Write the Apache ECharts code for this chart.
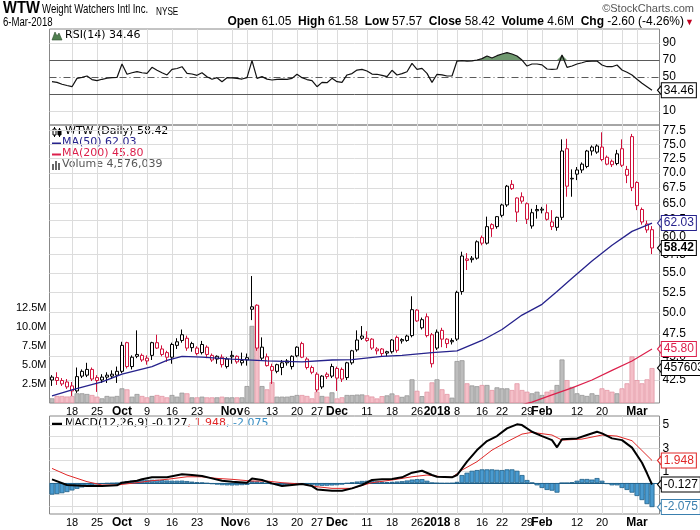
<!DOCTYPE html>
<html><head><meta charset="utf-8">
<script src="https://cdn.jsdelivr.net/npm/echarts@6/dist/echarts.min.js"></script>
<style>html,body{margin:0;padding:0;background:#fff}#c{width:700px;height:530px}</style>
</head><body><div id="c"></div>
<script>
// ---------- DATA ----------
const dates = ('2017-09-12 2017-09-13 2017-09-14 2017-09-15 2017-09-18 2017-09-19 2017-09-20 2017-09-21 2017-09-22 ' +
'2017-09-25 2017-09-26 2017-09-27 2017-09-28 2017-09-29 2017-10-02 2017-10-03 2017-10-04 2017-10-05 2017-10-06 ' +
'2017-10-09 2017-10-10 2017-10-11 2017-10-12 2017-10-13 2017-10-16 2017-10-17 2017-10-18 2017-10-19 2017-10-20 ' +
'2017-10-23 2017-10-24 2017-10-25 2017-10-26 2017-10-27 2017-10-30 2017-10-31 2017-11-01 2017-11-02 2017-11-03 ' +
'2017-11-06 2017-11-07 2017-11-08 2017-11-09 2017-11-10 2017-11-13 2017-11-14 2017-11-15 2017-11-16 2017-11-17 ' +
'2017-11-20 2017-11-21 2017-11-22 2017-11-24 2017-11-27 2017-11-28 2017-11-29 2017-11-30 2017-12-01 ' +
'2017-12-04 2017-12-05 2017-12-06 2017-12-07 2017-12-08 2017-12-11 2017-12-12 2017-12-13 2017-12-14 2017-12-15 ' +
'2017-12-18 2017-12-19 2017-12-20 2017-12-21 2017-12-22 2017-12-26 2017-12-27 2017-12-28 2017-12-29 ' +
'2018-01-02 2018-01-03 2018-01-04 2018-01-05 2018-01-08 2018-01-09 2018-01-10 2018-01-11 2018-01-12 ' +
'2018-01-16 2018-01-17 2018-01-18 2018-01-19 2018-01-22 2018-01-23 2018-01-24 2018-01-25 2018-01-26 ' +
'2018-01-29 2018-01-30 2018-01-31 2018-02-01 2018-02-02 2018-02-05 2018-02-06 2018-02-07 2018-02-08 2018-02-09 ' +
'2018-02-12 2018-02-13 2018-02-14 2018-02-15 2018-02-16 2018-02-20 2018-02-21 2018-02-22 2018-02-23 ' +
'2018-02-26 2018-02-27 2018-02-28 2018-03-01 2018-03-02 2018-03-05 2018-03-06').split(' ');

const open = [42.5,42.75,42.45,42.3,41.9,41.4,42.9,43.0,43.6,42.75, 42.5,42.8,42.9,43.0,43.4,46.5,43.9,45.0,45.1,44.8,
 45.1,46.5,45.8,45.4,44.9,46.2,46.75,47.0,46.4,45.9, 45.4,46.0,45.1,44.7,44.9,43.9,45.1,45.0,44.3,44.85,
 50.4,50.9,44.8,44.95,43.9,43.4,43.8,44.3,43.9,45.05, 46.4,44.7,43.8,43.1,41.8,43.1,42.9,43.7,43.6,42.75,
 44.3,45.7,47.25,47.0,46.9,45.6,45.8,45.5,45.5,47.1, 46.85,46.75,47.3,50.3,48.2,49.5,47.4,45.9,47.9,46.9,
 46.75,46.9,52.6,56.7,56.8,57.0,59.9,59.1,61.8,61.5, 63.2,64.8,68.1,63.7,66.1,65.0,61.6,63.9,64.0,63.6,
 61.5,61.4,62.9,74.2,69.0,69.8,70.5,71.1,73.8,73.6, 74.5,72.7,72.0,71.6,74.2,70.6,76.4,68.4,64.1,61.9, 61.05];
const high = [43.0,43.3,42.7,42.6,42.3,43.8,43.6,44.3,43.8,43.0, 43.1,43.3,43.5,43.9,46.6,46.6,45.1,47.9,45.3,45.1,
 46.6,47.4,46.2,45.6,46.5,47.0,48.0,47.3,46.6,46.1, 46.7,46.2,45.3,45.1,45.2,44.9,45.6,45.1,45.4,45.3,
 54.6,51.0,47.1,45.3,44.2,44.2,44.6,44.7,45.1,46.1, 46.6,44.9,44.0,43.3,43.0,43.3,44.2,43.9,43.8,44.4,
 45.7,47.9,48.4,47.8,47.0,46.0,45.9,45.6,46.9,47.3, 47.0,47.4,52.0,50.4,49.4,49.9,47.6,48.0,48.2,47.0,
 47.0,52.7,57.9,57.7,57.3,59.5,60.2,63.0,62.0,63.1, 65.0,68.0,68.8,66.0,66.8,65.2,64.2,64.8,64.5,64.9,
 64.0,63.0,75.9,76.0,70.6,71.0,71.8,74.0,74.8,75.0, 77.2,73.0,72.3,74.0,75.9,71.2,76.9,68.6,64.4,62.4, 61.58];
const low = [41.9,42.0,41.9,41.6,40.9,41.2,42.7,42.8,42.4,41.3, 42.2,42.2,42.6,42.2,43.2,43.7,43.6,44.8,44.4,44.1,
 44.6,45.8,45.0,44.4,44.2,45.8,46.5,45.6,45.5,45.1, 45.2,44.8,44.4,44.2,43.8,43.7,44.2,44.2,44.0,44.0,
 49.1,45.6,44.5,43.9,42.1,43.2,43.0,44.0,43.6,44.9, 44.8,43.6,43.1,41.3,41.6,42.6,42.7,41.4,42.3,42.5,
 44.1,45.5,46.8,46.6,45.7,45.2,45.0,45.0,45.3,45.4, 46.4,46.6,47.1,48.9,48.0,47.1,43.8,45.7,46.0,45.9,
 46.3,46.7,52.2,55.4,56.4,56.8,58.8,58.9,60.0,61.2, 62.9,64.5,67.2,62.2,65.0,61.9,61.2,62.7,63.5,62.4,
 61.0,60.9,62.5,66.1,66.1,68.8,70.0,70.8,73.0,73.3, 72.0,71.3,71.0,71.3,71.0,68.3,67.0,64.0,61.8,60.6, 57.57];
const close = [42.8,42.45,42.1,41.8,41.4,42.85,43.4,43.6,42.6,42.45, 42.8,43.0,43.1,43.4,46.2,43.9,44.9,45.2,44.6,44.5,
 46.5,45.9,45.2,44.9,46.3,46.6,47.4,45.9,45.95,45.3, 46.3,45.2,44.6,45.0,44.1,44.7,44.95,44.4,44.55,44.6,
 50.7,45.9,46.0,44.0,43.5,44.1,44.3,44.5,45.0,46.0, 44.9,43.8,43.3,41.5,42.9,42.85,43.9,42.7,42.6,44.3,
 45.6,46.8,47.0,46.75,45.9,45.8,45.3,45.35,46.8,45.65, 46.7,47.25,50.35,49.0,49.15,47.3,44.2,47.7,46.9,46.4,
 46.6,52.5,57.3,56.9,57.0,59.3,59.1,61.5,61.2,63.0, 64.8,67.8,67.4,65.9,65.4,62.6,63.6,64.1,64.15,62.6,
 62.2,62.9,73.8,67.8,69.1,70.5,71.5,73.8,74.5,74.7, 72.3,71.5,71.4,73.3,71.3,69.6,67.6,64.7,62.2,61.02, 58.42];
// volume in millions of shares
const volume = [0.61,0.92,0.92,0.85,0.92,1.27,1.27,1.18,1.05,0.83, 0.61,0.92,0.83,0.92,1.92,1.79,0.83,1.18,0.92,0.74,
 0.92,1.05,0.92,0.74,1.05,0.83,1.35,1.27,0.74,0.74, 0.83,0.74,0.74,0.74,0.83,0.74,0.74,0.74,0.74,2.22,
 10.1,12.8,2.22,1.79,2.75,0.83,0.83,0.83,0.92,1.05, 1.05,0.92,0.61,1.48,0.92,0.83,1.4,0.6,0.75,1.05,
 1.05,1.1,1.12,1.0,0.85,0.6,0.9,1.0,1.25,1.0, 0.8,1.0,3.1,1.6,0.9,1.48,2.7,3.1,1.8,1.18,
 0.7,5.5,5.6,2.58,2.3,2.2,2.36,2.36,1.7,2.05, 1.92,1.92,1.7,2.58,1.7,1.48,1.27,1.48,1.05,1.48,
 1.7,2.36,5.7,3.0,2.1,1.27,1.05,0.92,1.27,1.05, 1.92,1.7,1.48,1.27,1.92,2.58,6.1,3.0,2.58,3.1, 4.576039];
const lastVolumeShares = 4576039;
// moving averages read at selected trading-day indices [index, value]
const ma50Pts = [[0,40.9],[4,41.5],[10,42.3],[14,43.1],[20,43.9],[23,44.55],[26,45.0],[30,44.9],[36,44.7],[43,44.5],
 [50,44.4],[56,44.6],[60,44.65],[66,45.0],[70,45.1],[76,45.4],[81,45.6],[86,46.75],[90,48.0],[94,49.7],[98,51.0],
 [101,52.6],[104,54.3],[108,56.6],[112,58.8],[116,60.8],[120,62.03]];
const ma200Pts = [[88,39.5],[92,39.8],[96,40.3],[100,41.0],[104,41.7],[108,42.5],[112,43.5],[116,44.5],[120,45.8]];
const rsi = [44.5,43.7,41.5,40,38.6,48.4,49.6,51.2,47,45.7, 47.3,48.5,49.2,49.5,65.3,53.2,55,56.3,55,54.3,
 61.4,58,55,52.4,59,60,62.1,54.3,53.5,52, 55.1,50.4,47.3,49.2,44.5,49.2,49,48.4,47.6,49.2,
 69.2,48.4,50.4,47.5,46.5,47.3,47.5,47.3,48.4,53.2, 49.2,47,45.7,38.6,43.7,43.3,48.4,44.5,43.7,52.4,
 54,58.2,59,57,53.5,53.2,52,50.4,57.9,52.4, 54,56.2,66.1,59,60.2,54.3,43.7,53.2,52.4,51.2,
 51.2,68.8,69.2,68.8,69,70,71.6,74.7,72.4,75.1, 77.1,78.6,77.1,74.7,70,62.9,65.3,65.3,64.3,59.4,
 59,59.4,75.9,61.4,62.9,65.3,66.8,68.5,68.8,68.8, 64.1,62.1,62.1,64.1,58.2,55.5,52.4,47.3,42.6,38.6, 34.46];
const macdPts = [[0,0.32],[3,-0.17],[7,-0.26],[10,-0.26],[13,-0.2],[14,0.03],[17,0.2],[18,0.32],[20,0.49],[23,0.49],
 [26,0.75],[28,0.7],[30,0.6],[32,0.4],[34,0.2],[36,0.12],[39,0.03],[40,0.4],[42,0.26],[44,-0.03],[46,-0.26],[48,-0.17],
 [50,-0.09],[52,-0.26],[53,-0.55],[56,-0.66],[58,-0.66],[60,-0.46],[62,-0.17],[64,0.26],[66,0.32],[68,0.35],[70,0.49],
 [72,0.89],[74,1.06],[76,0.69],[77,0.54],[80,0.49],[81,0.69],[83,1.84],[85,2.84],[87,3.62],[89,4.05],[91,4.71],[93,5.06],
 [94,5.0],[96,4.42],[98,4.05],[100,3.7],[101,3.08],[102,3.77],[105,3.85],[107,4.14],[109,4.42],[110,4.28],[112,3.85],
 [114,3.7],[116,3.05],[118,1.75],[119,0.84],[120,-0.127]];
const signalPts = [[0,1.26],[3,0.69],[7,0.12],[10,-0.17],[13,-0.17],[17,0.03],[20,0.2],[23,0.32],[27,0.54],[30,0.54],
 [33,0.4],[36,0.32],[40,0.17],[43,0.17],[46,0.03],[50,-0.09],[53,-0.32],[56,-0.46],[60,-0.46],[64,0.03],[68,0.26],
 [72,0.54],[75,0.69],[78,0.54],[80,0.49],[82,1.12],[85,1.84],[88,2.84],[91,3.56],[94,4.22],[96,4.37],[100,4.14],
 [102,3.7],[106,3.79],[110,4.14],[113,4.05],[116,3.65],[118,2.8],[120,1.948]];
const hist = [-1.0,-0.95,-0.88,-0.78,-0.64,-0.5,-0.38,-0.28,-0.2,-0.13,-0.08,-0.05,-0.03,-0.01,
 0.1,0.17,0.21,0.24,0.26,0.27,0.28,0.27,0.25,0.22,0.2,0.2,0.21,0.17,0.12,0.07,
 0.03,-0.04,-0.1,-0.14,-0.18,-0.2,-0.21,-0.2,-0.18,-0.16,
 0.18,0.14,0.06,-0.04,-0.12,
 -0.18,-0.2,-0.18,-0.15,-0.12,-0.1,-0.12,-0.15,
 -0.22,-0.24,-0.23,-0.21,-0.19,-0.14,-0.04,
 0.05,0.13,0.18,0.2,0.19,0.15,0.1,0.08,0.1,0.13,
 0.16,0.22,0.3,0.34,0.34,0.2,0.02,-0.02,-0.04,-0.04,-0.03,0.1,
 0.69,0.89,1.06,1.12,1.18,1.18,1.18,1.14,1.12,1.18,1.18,1.06,
 0.69,0.26,0.03,-0.2,-0.43,-0.6,-0.66,-0.83,
 0.0,0.0,0.06,0.2,0.35,0.35,0.3,0.43,0.2,
 -0.09,-0.2,-0.2,-0.43,-0.6,-0.83,-1.12,-1.47,-1.82,-2.075];
const tickDates = ['2017-09-18','2017-09-25','2017-10-02','2017-10-09','2017-10-16','2017-10-23','2017-11-01','2017-11-06',
 '2017-11-13','2017-11-20','2017-11-27','2017-12-01','2017-12-11','2017-12-18','2017-12-26','2018-01-02','2018-01-08',
 '2018-01-16','2018-01-22','2018-01-29','2018-02-01','2018-02-12','2018-02-20','2018-02-26','2018-03-01'];
const tickTexts = ['18','25','Oct','9','16','23','Nov','6','13','20','27','Dec','11','18','26','2018','8','16','22','29','Feb','12','20','26','Mar'];
const priceTicks = [42.5,45,47.5,50,52.5,55,57.5,60,62.5,65,67.5,70,72.5,75,77.5];
const volumeTicks = [2.5,5,7.5,10,12.5];
const rsiTicks = [10,30,50,70,90];
const macdTicks = [-2,-1,0,1,2,3,4,5];
const lastRSI = 34.46, lastMA50 = 62.03, lastMA200 = 45.80, lastClose = 58.42;
const lastMACD = -0.127, lastSignal = 1.948, lastHist = -2.075;
const overbought = 70;

// ---------- STYLE / BUILD ----------
const FONT = '"Liberation Sans", Arial, sans-serif';
const LFONT = '"DejaVu Sans", Verdana, sans-serif';
const RED = '#d0103a', NAVY = '#26228c', CRIM = '#dc1f4b', SIGRED = '#e02828', HBLUE = '#4a9bd0', HEDGE = '#1f5f88';
const GRIDC = '#dcdcdc';
const xData = dates.concat(['']);
const last = dates[dates.length - 1];
const tickMap = {}; tickDates.forEach((d, i) => tickMap[d] = tickTexts[i]);
const vLines = tickDates.map(d => ({ xAxis: d }));
const pts = arr => arr.map(p => [dates[p[0]], p[1]]);

const candleData = dates.map((d, i) => {
  const prev = i > 0 ? close[i - 1] : open[i];
  const col = close[i] < prev ? RED : '#000';
  return { value: [open[i], close[i], low[i], high[i]],
    itemStyle: { color: '#fff', color0: col, borderColor: col, borderColor0: col } };
});
const volData = dates.map((d, i) => {
  const down = i > 0 && close[i] < close[i - 1];
  return { value: volume[i], itemStyle: down ? { color: '#f4bfc8', borderColor: '#e397a5' } : { color: '#bdbdbd', borderColor: '#979797' } };
});
// RSI portion above the overbought line (for the shaded area)
const rsiAbove = rsi.map(v => Math.max(v, overbought));

function tag(value, text, color, bold) {
  return { symbol: 'path://M0,5L6,0L6,10Z', symbolSize: [5, 12], symbolOffset: [8, 0], silent: true,
    itemStyle: { color: '#fff', borderColor: color, borderWidth: 1 },
    data: [{ coord: [last, value],
    label: { show: true, position: 'right', distance: -1, formatter: text, color: color,
      borderColor: color, borderWidth: 1, backgroundColor: '#fff', padding: [2, 2, 0, 2],
      fontSize: 12, fontFamily: FONT, fontWeight: bold ? 'bold' : 'normal' } }] };
}
function ml(data) {
  return { silent: true, symbol: ['none', 'none'], z: 1, label: { show: false },
    lineStyle: { color: GRIDC, width: 1, type: 'solid' }, emphasis: { disabled: true }, data: data };
}
function xAxisFor(k) {
  return { gridIndex: k, type: 'category', data: xData, boundaryGap: true,
    axisLine: { show: false }, axisTick: { show: false }, splitLine: { show: false },
    axisLabel: k === 0 ? { show: false } : {
      interval: (idx, val) => tickMap[val] !== undefined, margin: 3, fontSize: 11, color: '#000', fontFamily: FONT,
      hideOverlap: false, showMaxLabel: true, showMinLabel: true,
      formatter: v => { const t = tickMap[v] || ''; return (isNaN(t) || t.length === 4) ? '{b|' + t + '}' : t; },
      rich: { b: { fontWeight: 'bold', fontSize: 12, fontFamily: FONT, color: '#000' } } } };
}
const gridBase = { left: 49.5, width: 610, show: true, borderColor: '#888', borderWidth: 1, backgroundColor: 'transparent' };
const yLab = { margin: 3, fontSize: 12, color: '#000', fontFamily: FONT, hideOverlap: false, showMaxLabel: true, showMinLabel: true };

const chart = echarts.init(document.getElementById('c'), null, { renderer: 'canvas' });
chart.setOption({
  animation: false,
  backgroundColor: '#fff',
  textStyle: { fontFamily: FONT },
  grid: [ Object.assign({ top: 29, height: 96 }, gridBase),
          Object.assign({ top: 125, height: 278 }, gridBase),
          Object.assign({ top: 416, height: 98 }, gridBase) ],
  xAxis: [xAxisFor(0), xAxisFor(1), xAxisFor(2)],
  yAxis: [
    { gridIndex: 0, type: 'value', min: -6.5, max: 106.5, position: 'right', axisLine: { show: false }, axisTick: { show: false },
      splitLine: { show: false }, axisLabel: Object.assign({ customValues: rsiTicks }, yLab) },
    { gridIndex: 1, type: 'log', logBase: 10, min: 40.21, max: 78.57, position: 'right', axisLine: { show: false }, axisTick: { show: false },
      splitLine: { show: false }, axisLabel: Object.assign({ customValues: priceTicks, formatter: v => Number(v).toFixed(1) }, yLab) },
    { gridIndex: 1, type: 'value', min: 0, max: 36.4, position: 'left', axisLine: { show: false }, axisTick: { show: false },
      splitLine: { show: false }, axisLabel: Object.assign({ customValues: volumeTicks, formatter: v => Number(v).toFixed(1) + 'M' }, yLab, { fontSize: 11 }) },
    { gridIndex: 2, type: 'value', min: -2.67, max: 5.78, position: 'right', axisLine: { show: false }, axisTick: { show: false },
      splitLine: { show: false }, axisLabel: Object.assign({ customValues: macdTicks }, yLab) }
  ],
  series: [
    // RSI overbought shading between RSI and 70
    { type: 'line', xAxisIndex: 0, yAxisIndex: 0, data: rsiAbove, symbol: 'none', silent: true, z: 2,
      lineStyle: { width: 0, opacity: 0 }, areaStyle: { origin: overbought, color: '#6f986f', opacity: 1 },
      markLine: ml(vLines.concat([{ yAxis: 10 }, { yAxis: 90 },
        { yAxis: 70, lineStyle: { color: '#5a5a5a', width: 1 } }, { yAxis: 30, lineStyle: { color: '#5a5a5a', width: 1 } },
        { yAxis: 50, lineStyle: { color: '#5a5a5a', width: 1, type: [7, 3, 1, 3] } }])) },
    { type: 'line', xAxisIndex: 0, yAxisIndex: 0, data: rsi, symbol: 'none', silent: true, z: 4,
      lineStyle: { color: '#111', width: 1.2 }, markPoint: tag(lastRSI, String(lastRSI), '#000', false) },
    // volume
    { type: 'bar', xAxisIndex: 1, yAxisIndex: 2, data: volData, barCategoryGap: '0%', silent: true, z: 2,
      itemStyle: { borderWidth: 0.8 }, markPoint: tag(volume[volume.length - 1], String(lastVolumeShares), '#000', false) },
    // candles
    { type: 'candlestick', xAxisIndex: 1, yAxisIndex: 1, data: candleData, barWidth: 4, silent: true, z: 3,
      itemStyle: { borderWidth: 1 }, markPoint: tag(lastClose, lastClose.toFixed(2), '#000', true) },
    { type: 'line', xAxisIndex: 1, yAxisIndex: 1, data: pts(ma50Pts), symbol: 'none', silent: true, z: 4,
      lineStyle: { color: NAVY, width: 1.3 }, markPoint: tag(lastMA50, lastMA50.toFixed(2), NAVY, false),
      markLine: ml(vLines.concat(priceTicks.map(v => ({ yAxis: v })))) },
    { type: 'line', xAxisIndex: 1, yAxisIndex: 1, data: pts(ma200Pts), symbol: 'none', silent: true, z: 4,
      lineStyle: { color: CRIM, width: 1.2 }, markPoint: tag(lastMA200, lastMA200.toFixed(2), CRIM, false) },
    // MACD
    { type: 'bar', xAxisIndex: 2, yAxisIndex: 3, data: hist, barCategoryGap: '0%', silent: true, z: 2,
      itemStyle: { color: HBLUE, borderColor: HEDGE, borderWidth: 0.8 },
      markPoint: tag(lastHist, String(lastHist), '#3a7fae', false),
      markLine: ml(vLines.concat(macdTicks.map(v => ({ yAxis: v }))).concat([{ yAxis: 0, lineStyle: { color: HEDGE, width: 1 } }])) },
    { type: 'line', xAxisIndex: 2, yAxisIndex: 3, data: pts(signalPts), symbol: 'none', silent: true, z: 4,
      lineStyle: { color: SIGRED, width: 1 }, markPoint: tag(lastSignal, String(lastSignal), SIGRED, false) },
    { type: 'line', xAxisIndex: 2, yAxisIndex: 3, data: pts(macdPts), symbol: 'none', silent: true, z: 5,
      lineStyle: { color: '#000', width: 2 }, markPoint: tag(lastMACD, String(lastMACD), '#000', false) }
  ],
  graphic: [
    { type: 'text', x: 3, y: 1, scaleX: 0.92, style: { text: 'WTW', font: 'bold 16px ' + FONT, fill: '#000' } },
    { type: 'text', x: 42, y: 4, scaleX: 0.8, style: { text: 'Weight Watchers Intl Inc.', font: '12px ' + FONT, fill: '#000' } },
    { type: 'text', x: 156, y: 7, scaleX: 0.82, style: { text: 'NYSE', font: '10px ' + FONT, fill: '#000' } },
    { type: 'text', right: 6, top: 3, style: { text: '\u00A9StockCharts.com', font: '11px ' + FONT, fill: '#555' } },
    { type: 'text', x: 3, y: 17, scaleX: 0.8, style: { text: '6-Mar-2018', font: '12px ' + FONT, fill: '#000' } },
    { type: 'text', right: 16, top: 16, style: {
      text: '{b|Open} 61.05  {b|High} 61.58  {b|Low} 57.57  {b|Close} 58.42  {b|Volume} 4.6M  {b|Chg} -2.60 (-4.26%)',
      font: '12px ' + FONT, fill: '#000', rich: { b: { font: 'bold 12px ' + FONT, fill: '#000' } } } },
    { type: 'text', right: 6, top: 18, style: { text: '\u25BC', font: '9px ' + FONT, fill: '#c00020' } },
    // RSI legend
    { type: 'polygon', shape: { points: [[52, 40], [55, 32], [57, 36], [59, 33], [62, 40]] }, style: { fill: '#4f7f4f', stroke: '#2d4d2d', lineWidth: 0.6 } },
    { type: 'text', left: 65, top: 30, style: { text: 'RSI(14) ' + lastRSI, font: '11px ' + LFONT, fill: '#000' } },
    // price legend
    { type: 'line', shape: { x1: 54.5, y1: 127, x2: 54.5, y2: 137 }, style: { stroke: '#000', lineWidth: 1 } },
    { type: 'rect', shape: { x: 53, y: 129, width: 3, height: 6 }, style: { fill: '#fff', stroke: '#000', lineWidth: 1 } },
    { type: 'line', shape: { x1: 59.5, y1: 128, x2: 59.5, y2: 137 }, style: { stroke: '#000', lineWidth: 1 } },
    { type: 'rect', shape: { x: 58, y: 130, width: 3, height: 5 }, style: { fill: '#000', stroke: '#000', lineWidth: 1 } },
    { type: 'text', left: 65, top: 126, style: { text: 'WTW (Daily) ' + lastClose.toFixed(2), font: '11px ' + LFONT, fill: '#000' } },
    { type: 'line', shape: { x1: 52, y1: 143.5, x2: 61, y2: 143.5 }, style: { stroke: NAVY, lineWidth: 2 } },
    { type: 'text', left: 62, top: 137, style: { text: 'MA(50) ' + lastMA50.toFixed(2), font: '11px ' + LFONT, fill: NAVY } },
    { type: 'line', shape: { x1: 52, y1: 154.5, x2: 61, y2: 154.5 }, style: { stroke: CRIM, lineWidth: 2 } },
    { type: 'text', left: 62, top: 148, style: { text: 'MA(200) ' + lastMA200.toFixed(2), font: '11px ' + LFONT, fill: CRIM } },
    { type: 'rect', shape: { x: 52, y: 164, width: 2, height: 6 }, style: { fill: '#666' } },
    { type: 'rect', shape: { x: 55, y: 161, width: 2, height: 9 }, style: { fill: '#666' } },
    { type: 'rect', shape: { x: 58, y: 163, width: 2, height: 7 }, style: { fill: '#666' } },
    { type: 'text', left: 62, top: 159, style: { text: 'Volume ' + lastVolumeShares.toLocaleString('en-US'), font: '11px ' + LFONT, fill: '#555' } },
    // MACD legend
    { type: 'line', shape: { x1: 52, y1: 424, x2: 62, y2: 424 }, style: { stroke: '#000', lineWidth: 2.5 } },
    { type: 'text', left: 65, top: 418, style: {
      text: '{a|MACD(12,26,9) ' + lastMACD + '}{r|, ' + lastSignal + '}{u|, ' + lastHist + '}', font: '11px ' + LFONT,
      rich: { a: { fill: '#000', font: '11px ' + LFONT }, r: { fill: SIGRED, font: '11px ' + LFONT }, u: { fill: '#3a8fc4', font: '11px ' + LFONT } } } }
  ]
});
</script>
</body></html>
